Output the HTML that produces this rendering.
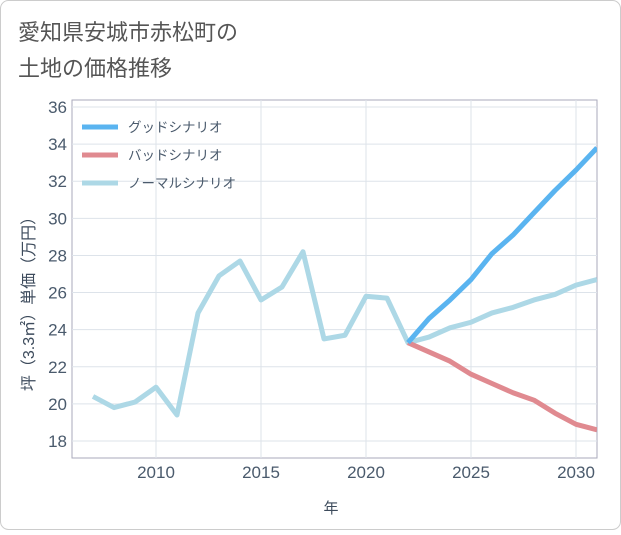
<!DOCTYPE html>
<html><head><meta charset="utf-8"><style>
body{margin:0;background:#fff;}
#wrap{position:relative;width:621px;height:530px;font-family:"Liberation Sans","Noto Sans CJK JP",sans-serif;}
</style></head><body>
<div id="wrap">
<svg id="svg" width="621" height="530" xmlns="http://www.w3.org/2000/svg">
<rect x="0.5" y="0.5" width="620" height="529" rx="8" fill="#fff" stroke="#ccc"/>
<text x="18" y="40" font-size="22" fill="#555">愛知県安城市赤松町の</text>
<text x="18" y="76" font-size="22" fill="#555">土地の価格推移</text>
<rect x="72" y="100" width="525" height="358" fill="none" stroke="#aab"/>
<g id="grid"></g><g id="series"></g><g id="legend"></g>
<text x="331" y="513" font-size="15" fill="#3d4b5c" text-anchor="middle">年</text>
<text transform="translate(34,300) rotate(-90)" font-size="16" fill="#3d4b5c" text-anchor="middle">坪（3.3㎡）単価（万円）</text>
</svg></div>
<script>
const years=[2007,2008,2009,2010,2011,2012,2013,2014,2015,2016,2017,2018,2019,2020,2021,2022,2023,2024,2025,2026,2027,2028,2029,2030,2031];
const normalVals=[20.4,19.8,20.1,20.9,19.4,24.9,26.9,27.7,25.6,26.3,28.2,23.5,23.7,25.8,25.7,23.3,23.6,24.1,24.4,24.9,25.2,25.6,25.9,26.4,26.7];
const futureYears=[2022,2023,2024,2025,2026,2027,2028,2029,2030,2031];
const goodVals=[23.3,24.6,25.6,26.7,28.1,29.1,30.3,31.5,32.6,33.8];
const badVals=[23.3,22.8,22.3,21.6,21.1,20.6,20.2,19.5,18.9,18.6];
const yTicks=[18,20,22,24,26,28,30,32,34,36];
const xTicks=[2010,2015,2020,2025,2030];
const legendLabels=["グッドシナリオ","バッドシナリオ","ノーマルシナリオ"];
const NS="http://www.w3.org/2000/svg";
const xS=y=>156+(y-2010)*21;
const yS=v=>441-(v-18)*(334/18);
const grid=document.getElementById('grid');
yTicks.forEach(t=>{
 const l=document.createElementNS(NS,'line');
 l.setAttribute('x1',72);l.setAttribute('x2',597);l.setAttribute('y1',yS(t));l.setAttribute('y2',yS(t));
 l.setAttribute('stroke','#dde3ea');
 
 
 grid.appendChild(l);
 const tx=document.createElementNS(NS,'text');
 tx.setAttribute('x',67);tx.setAttribute('y',yS(t)+6);tx.setAttribute('text-anchor','end');tx.setAttribute('font-size','17');tx.setAttribute('fill','#4a5a6c');
 tx.textContent=t;
 
 
 grid.appendChild(tx);
});
xTicks.forEach(t=>{
 const l=document.createElementNS(NS,'line');
 l.setAttribute('x1',xS(t));l.setAttribute('x2',xS(t));l.setAttribute('y1',100);l.setAttribute('y2',458);
 l.setAttribute('stroke','#dde3ea');
 
 
 grid.appendChild(l);
 const tx=document.createElementNS(NS,'text');
 tx.setAttribute('x',xS(t));tx.setAttribute('y',478);tx.setAttribute('text-anchor','middle');tx.setAttribute('font-size','17');tx.setAttribute('fill','#4a5a6c');
 tx.textContent=t;
 
 
 grid.appendChild(tx);
});
const ser=document.getElementById('series');
function line(xs,vs,color,name){
 const p=document.createElementNS(NS,'polyline');
 p.setAttribute('points',xs.map((y,i)=>xS(y)+','+yS(vs[i])).join(' '));
 p.setAttribute('fill','none');p.setAttribute('stroke',color);p.setAttribute('stroke-width','5');p.setAttribute('stroke-linejoin','round');
 p.setAttribute('clip-path','url(#clip)');
 
 
 ser.appendChild(p);
}
const cp=document.createElementNS(NS,'clipPath');cp.setAttribute('id','clip');
const cr=document.createElementNS(NS,'rect');cr.setAttribute('x',72);cr.setAttribute('y',100);cr.setAttribute('width',525);cr.setAttribute('height',358);
cp.appendChild(cr);document.getElementById('svg').appendChild(cp);
line(years,normalVals,'#add8e6','normal-scenario-line');
line(futureYears,badVals,'#e08a90','bad-scenario-line');
line(futureYears,goodVals,'#5ab4f0','good-scenario-line');
const lg=document.getElementById('legend');
const lc=['#5ab4f0','#e08a90','#add8e6'];
legendLabels.forEach((s,i)=>{
 const y=127+i*28;
 const l=document.createElementNS(NS,'line');
 l.setAttribute('x1',82);l.setAttribute('x2',118);l.setAttribute('y1',y);l.setAttribute('y2',y);
 l.setAttribute('stroke',lc[i]);l.setAttribute('stroke-width','5');
 
 
 lg.appendChild(l);
 const tx=document.createElementNS(NS,'text');
 tx.setAttribute('x',128);tx.setAttribute('y',y+5);tx.setAttribute('font-size','13.5');tx.setAttribute('fill','#4a5a6c');
 tx.textContent=s;
 
 
 lg.appendChild(tx);
});
</script>
</body></html>
